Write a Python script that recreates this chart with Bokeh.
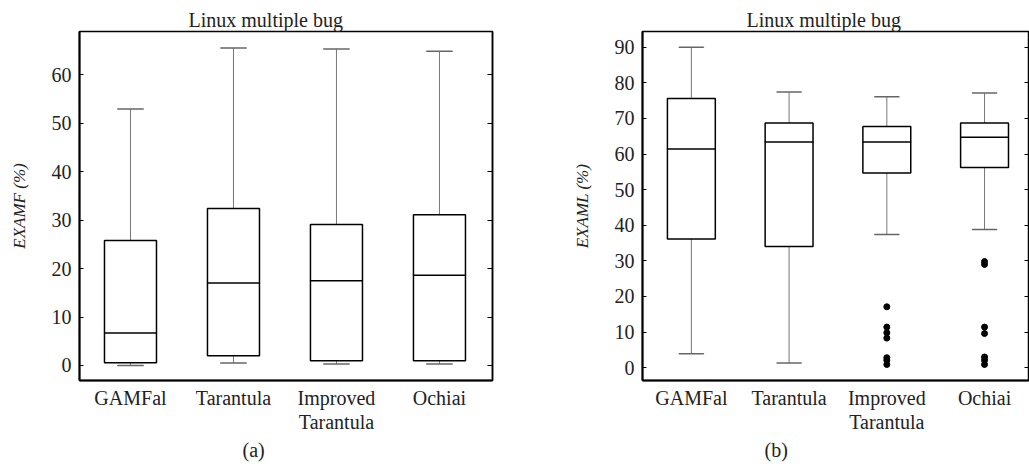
from bokeh.plotting import figure
from bokeh.models import Range1d, FixedTicker, LinearAxis, ColumnDataSource, Title
from bokeh.layouts import row
from bokeh.embed import file_html
from bokeh.resources import INLINE

categories = ["GAMFal", "Tarantula", "Improved\nTarantula", "Ochiai"]

# panel (a): EXAM_F (%)
a_low = [0.0, 0.5, 0.3, 0.3]
a_q1 = [0.55, 2.0, 1.0, 1.0]
a_med = [6.7, 17.0, 17.5, 18.6]
a_q3 = [25.8, 32.4, 29.1, 31.1]
a_high = [52.9, 65.5, 65.3, 64.8]
a_ticks = [0, 10, 20, 30, 40, 50, 60]
a_out_cat = []
a_out_val = []

# panel (b): EXAM_L (%)
b_low = [3.9, 1.3, 37.4, 38.8]
b_q1 = [36.1, 34.0, 54.7, 56.2]
b_med = [61.4, 63.4, 63.4, 64.7]
b_q3 = [75.6, 68.7, 67.7, 68.7]
b_high = [90.0, 77.4, 76.1, 77.1]
b_ticks = [0, 10, 20, 30, 40, 50, 60, 70, 80, 90]
b_out_cat = [2, 2, 2, 2, 2, 2, 2, 3, 3, 3, 3, 3, 3, 3]
b_out_val = [17.1, 11.4, 9.8, 8.3, 2.8, 2.1, 0.9, 29.8, 29.0, 11.4, 9.6, 3.0, 2.1, 0.9]

FONT = "Liberation Serif"


def make_panel(width, border_left, border_right, xr, yr, low, q1, med, q3, high, ticks,
               out_cat, out_val, ylabel, sub, title_off, sub_off, box_w):
    p = figure(width=width, height=468, x_range=Range1d(*xr), y_range=Range1d(*yr),
               output_backend="svg", toolbar_location=None,
               min_border_left=border_left, min_border_right=border_right,
               min_border_top=31, min_border_bottom=88)
    p.background_fill_color = "white"
    p.border_fill_color = "white"
    p.outline_line_color = "black"
    p.outline_line_width = 1.5
    p.xgrid.visible = False
    p.ygrid.visible = False

    xs = list(range(len(categories)))
    src = ColumnDataSource(dict(x=xs, low=low, q1=q1, med=med, q3=q3, high=high))
    # whiskers
    p.segment(x0="x", y0="q3", x1="x", y1="high", source=src, line_color="#777777", line_width=1)
    p.segment(x0="x", y0="low", x1="x", y1="q1", source=src, line_color="#777777", line_width=1)
    # caps
    p.rect(x="x", y="high", width=0.25, height=0.0001, source=src, line_color="#666666",
           line_width=1.5, fill_color=None)
    p.rect(x="x", y="low", width=0.25, height=0.0001, source=src, line_color="#666666",
           line_width=1.5, fill_color=None)
    # boxes
    p.vbar(x="x", bottom="q1", top="q3", width=box_w, source=src, fill_color="white",
           line_color="black", line_width=1.5)
    # median
    p.rect(x="x", y="med", width=box_w, height=0.0001, source=src, line_color="black",
           line_width=1.5, fill_color=None)
    if out_cat:
        p.scatter(x=out_cat, y=out_val, size=6, color="black")

    # x axis
    xa = p.xaxis[0]
    xa.ticker = FixedTicker(ticks=xs)
    xa.major_label_overrides = {i: c for i, c in enumerate(categories)}
    xa.major_tick_line_color = None
    xa.minor_tick_line_color = None
    xa.axis_line_color = "black"
    xa.axis_line_width = 2
    xa.major_label_text_font = FONT
    xa.major_label_text_font_size = "20px"
    xa.major_label_text_color = "#222222"
    xa.major_label_text_line_height = 1.1
    xa.major_label_standoff = 0

    ya = p.yaxis[0]
    ya.ticker = FixedTicker(ticks=ticks)
    ya.major_tick_in = 4
    ya.major_tick_out = 0
    ya.minor_tick_line_color = None
    ya.axis_line_width = 2
    ya.major_label_text_font = FONT
    ya.major_label_text_font_size = "20px"
    ya.major_label_text_color = "#222222"
    ya.major_label_standoff = 8
    ya.axis_label = ylabel
    ya.axis_label_text_font = FONT
    ya.axis_label_text_font_style = "italic"
    ya.axis_label_text_font_size = "17px"
    ya.axis_label_text_color = "#222222"
    ya.axis_label_standoff = 20

    ra = LinearAxis(ticker=FixedTicker(ticks=ticks), major_tick_in=5, major_tick_out=0,
                    minor_tick_line_color=None, major_label_text_font_size="0px",
                    major_label_text_color=None,
                    major_label_standoff=0, axis_line_width=1.5)
    p.add_layout(ra, "right")

    p.title.text = "Linux multiple bug"
    p.title.align = "left"
    p.title.offset = title_off
    p.title.text_font = FONT
    p.title.text_font_style = "normal"
    p.title.text_font_size = "20px"
    p.title.text_color = "#222222"
    p.title.standoff = 2

    p.add_layout(Title(text=sub, align="left", offset=sub_off, text_font=FONT,
                       text_font_style="normal", text_font_size="20px",
                       text_color="#222222", standoff=2), "below")
    return p


pa = make_panel(520, 79, 28, (-0.495, 3.515), (-3.1, 68.9), a_low, a_q1, a_med, a_q3, a_high,
                a_ticks, a_out_cat, a_out_val, "EXAMF (%)", "(a)", 109, 163, 0.505)
pb = make_panel(509, 122, 0, (-0.5, 3.46), (-3.6, 94.4), b_low, b_q1, b_med, b_q3, b_high,
                b_ticks, b_out_cat, b_out_val, "EXAML (%)", "(b)", 104, 122, 0.49)

layout = row(pa, pb)
open("out.html", "w").write(file_html(layout, INLINE))
